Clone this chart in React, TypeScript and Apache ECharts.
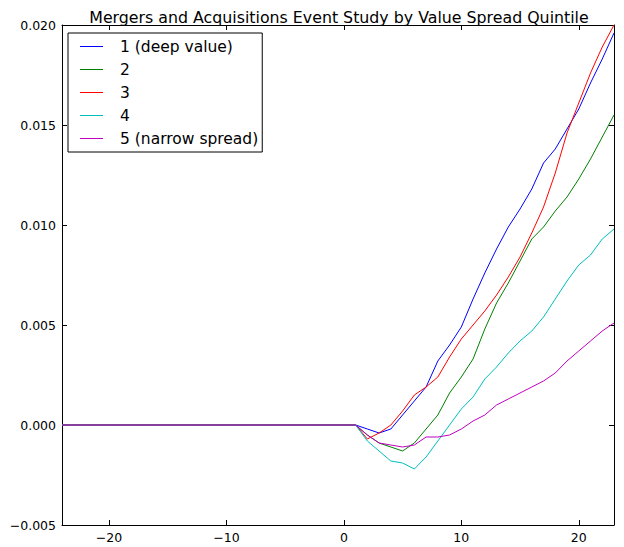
import React, { useEffect, useRef } from "react";
import * as echarts from "echarts";

const TITLE = "Mergers and Acquisitions Event Study by Value Spread Quintile";

const days = [
  -24, -23, -22, -21, -20, -19, -18, -17, -16, -15, -14, -13, -12, -11, -10, -9,
  -8, -7, -6, -5, -4, -3, -2, -1, 0, 1, 2, 3, 4, 5, 6, 7, 8, 9, 10, 11, 12, 13,
  14, 15, 16, 17, 18, 19, 20, 21, 22, 23,
];

const flatPre = [
  0, 0, 0, 0, 0, 0, 0, 0, 0, 0, 0, 0, 0, 0, 0, 0, 0, 0, 0, 0, 0, 0, 0, 0, 0,
];

// values for day 1 .. 23
const q1Post = [
  0.0, -0.0002, -0.0004, -0.0002, 0.0005, 0.0012, 0.0019, 0.0032, 0.004, 0.0049,
  0.0063, 0.0076, 0.0088, 0.0099, 0.0108, 0.0118, 0.0131, 0.0138, 0.0148, 0.0158,
  0.0171, 0.0183, 0.0196,
];
const q2Post = [
  0.0, -0.0005, -0.0009, -0.0011, -0.0013, -0.0009, -0.0002, 0.0005, 0.0016,
  0.0024, 0.0033, 0.0048, 0.0061, 0.0071, 0.0082, 0.0093, 0.0099, 0.0107, 0.0114,
  0.0123, 0.0133, 0.0144, 0.0155,
];
const q3Post = [
  0.0, -0.0007, -0.0004, 0.0, 0.0007, 0.0015, 0.0019, 0.0024, 0.0034, 0.0043,
  0.005, 0.0057, 0.0065, 0.0074, 0.0084, 0.0096, 0.0109, 0.0126, 0.0146, 0.0161,
  0.0176, 0.0189, 0.02,
];
const q4Post = [
  0.0, -0.0008, -0.0013, -0.0018, -0.0019, -0.0022, -0.0016, -0.0008, 0.0, 0.0008,
  0.0014, 0.0023, 0.0029, 0.0036, 0.0042, 0.0047, 0.0054, 0.0063, 0.0072, 0.008,
  0.0085, 0.0093, 0.0098,
];
const q5Post = [
  0.0, -0.0005, -0.0009, -0.001, -0.0011, -0.001, -0.0006, -0.0006, -0.0005,
  -0.0002, 0.0002, 0.0005, 0.001, 0.0013, 0.0016, 0.0019, 0.0022, 0.0026, 0.0032,
  0.0037, 0.0042, 0.0047, 0.0051,
];

const seriesNames = ["1 (deep value)", "2", "3", "4", "5 (narrow spread)"];
const seriesColors = ["#0000ff", "#008000", "#ff0000", "#00bfbf", "#bf00bf"];
const seriesValues = [q1Post, q2Post, q3Post, q4Post, q5Post].map((p) =>
  flatPre.concat(p)
);

const xTicks = [-20, -10, 0, 10, 20];
const FONT = "DejaVu Sans";

function fmtNum(v: number, digits: number): string {
  const s = v.toFixed(digits);
  return s.replace("-", "\u2212");
}

export default function App() {
  const ref = useRef<HTMLDivElement>(null);
  useEffect(() => {
    if (!ref.current) return;
    const chart = echarts.init(ref.current, null, { renderer: "svg" });
    const axisLine = { show: true, onZero: false, lineStyle: { color: "#000", width: 1 } };
    const tick = { show: true, inside: true, length: 5, lineStyle: { color: "#000", width: 1 } };
    chart.setOption({
      animation: false,
      backgroundColor: "#fff",
      textStyle: { fontFamily: FONT },
      grid: { left: 62, right: 10, top: 25, bottom: 22, containLabel: false },
      graphic: [
        {
          type: "text",
          x: 339,
          y: 17,
          style: {
            text: TITLE,
            fontFamily: FONT,
            fontSize: 15.8,
            fill: "#000",
            textAlign: "center",
            textVerticalAlign: "middle",
          },
        },
      ],
      legend: {
        orient: "vertical",
        left: 68,
        top: 33,
        padding: [5, 4, 5, 12],
        borderColor: "#000",
        borderWidth: 1,
        backgroundColor: "#fff",
        icon: "rect",
        itemWidth: 23,
        itemHeight: 1,
        itemGap: 6,
        textStyle: {
          fontFamily: FONT,
          fontSize: 15.5,
          color: "#000",
          lineHeight: 17,
          padding: [0, 0, 0, 12],
        },
        data: seriesNames,
      },
      xAxis: [
        {
          type: "value",
          min: -24,
          max: 23,
          position: "bottom",
          axisLine,
          axisTick: { ...tick, customValues: xTicks },
          axisLabel: {
            customValues: xTicks,
            fontFamily: FONT,
            fontSize: 12.5,
            color: "#000",
            margin: 6,
            formatter: (v: number) => fmtNum(v, 0),
          },
          splitLine: { show: false },
        },
        {
          type: "value",
          min: -24,
          max: 23,
          position: "top",
          axisLine,
          axisTick: { ...tick, customValues: xTicks },
          axisLabel: { show: false, customValues: xTicks },
          splitLine: { show: false },
        },
      ],
      yAxis: [
        {
          type: "value",
          min: -0.005,
          max: 0.02,
          interval: 0.005,
          position: "left",
          axisLine,
          axisTick: tick,
          axisLabel: {
            fontFamily: FONT,
            fontSize: 12.5,
            color: "#000",
            margin: 6,
            formatter: (v: number) => fmtNum(v, 3),
          },
          splitLine: { show: false },
        },
        {
          type: "value",
          min: -0.005,
          max: 0.02,
          interval: 0.005,
          position: "right",
          axisLine,
          axisTick: tick,
          axisLabel: { show: false },
          splitLine: { show: false },
        },
      ],
      series: seriesNames.map((name, i) => ({
        name,
        type: "line",
        xAxisIndex: 0,
        yAxisIndex: 0,
        showSymbol: false,
        symbol: "none",
        color: seriesColors[i],
        lineStyle: { color: seriesColors[i], width: 1 },
        data: days.map((d, j) => [d, seriesValues[i][j]]),
      })),
    });
    return () => chart.dispose();
  }, []);
  return (
    <div
      ref={ref}
      style={{ position: "absolute", left: 0, top: 0, width: 624, height: 547 }}
    />
  );
}
